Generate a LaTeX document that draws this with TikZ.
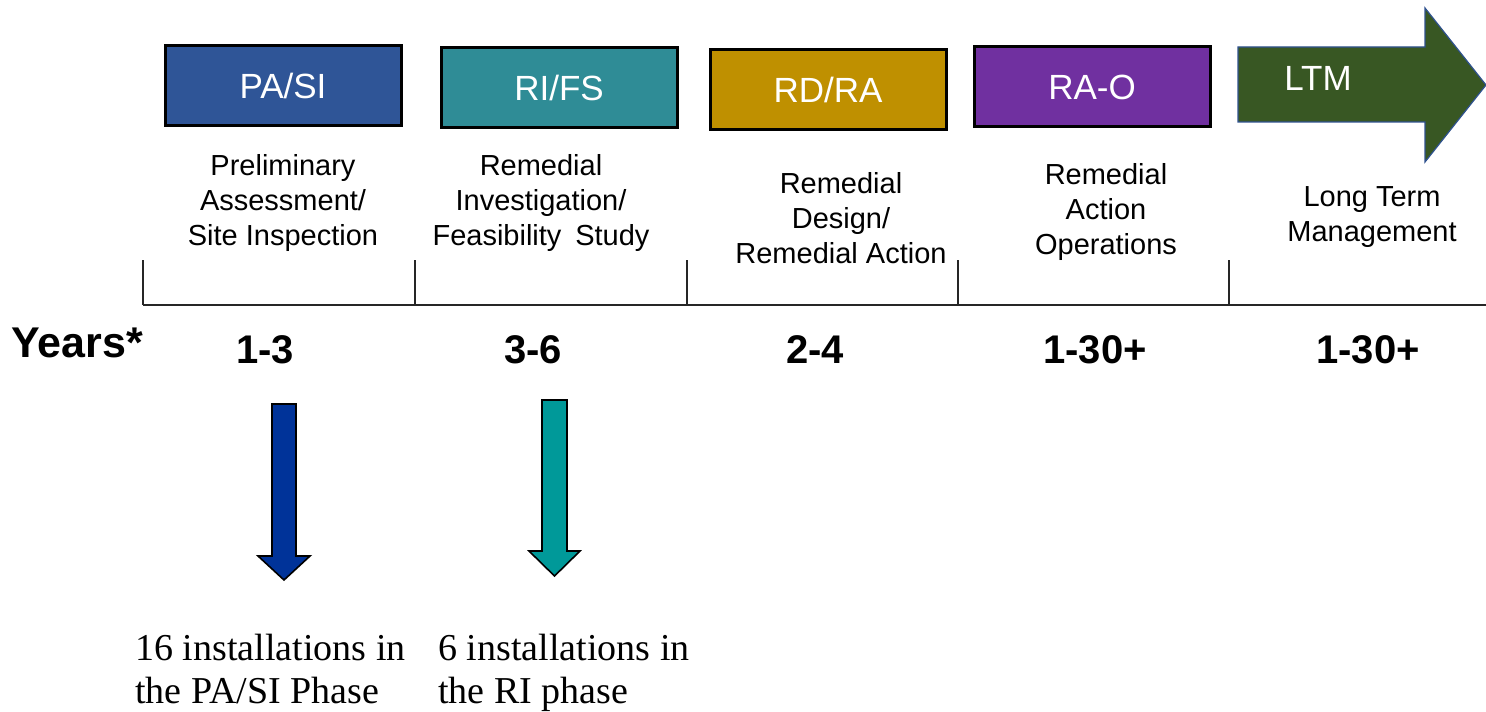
\documentclass[tikz,border=0pt]{standalone}
\usepackage{fontspec}
\setmainfont{Liberation Sans}
\newfontfamily\serifface{Liberation Serif}
\definecolor{pablue}{HTML}{2F5597}
\definecolor{riteal}{HTML}{2F8C96}
\definecolor{rdgold}{HTML}{BF9000}
\definecolor{raopurple}{HTML}{7030A0}
\definecolor{ltmgreen}{HTML}{385723}
\definecolor{ltmedge}{HTML}{2F528F}
\definecolor{arrowblue}{HTML}{003399}
\definecolor{arrowteal}{HTML}{009999}
\begin{document}
\begin{tikzpicture}[x=0.5pt,y=-0.5pt,
  phase/.style={draw=black, line width=1.5pt, minimum width=118pt, minimum height=40pt,
    inner sep=0pt, text=white, font=\fontsize{17.5pt}{19pt}\selectfont},
  desc/.style={align=center, font=\fontsize{14.5pt}{17.5pt}\selectfont, inner sep=0pt},
  yr/.style={font=\bfseries\fontsize{20pt}{22pt}\selectfont, inner sep=0pt},
  tickline/.style={line width=0.6pt, draw=black!85},
  note/.style={font=\serifface\fontsize{19pt}{21.5pt}\selectfont, align=left,
    anchor=north west, inner sep=0pt},
  blockarrow/.style={draw=black, line width=0.8pt, line join=miter}]

\useasboundingbox (0,0) rectangle (1486,711);

% phase boxes
\node[phase, fill=pablue]    (pasi) at (283,86)   {PA/SI};
\node[phase, fill=riteal]    (rifs) at (559,87.5) {RI/FS};
\node[phase, fill=rdgold]    (rdra) at (828,90)   {RD/RA};
\node[phase, fill=raopurple] (rao)  at (1092,87)  {RA-O};

% long term management block arrow
\filldraw[fill=ltmgreen, draw=ltmedge, line width=0.6pt]
  (1238,47) -- (1425,47) -- (1425,8) -- (1486,85) -- (1425,162)
  -- (1425,122) -- (1238,122) -- cycle;
\node[text=white, font=\fontsize{17.5pt}{19pt}\selectfont, inner sep=0pt] (ltm) at (1318,78) {LTM};

% phase descriptions
\node[desc] (dpasi) at (283,203) {Preliminary\\Assessment/\\Site Inspection};
\node[desc] (drifs) at (541,203) {Remedial\\Investigation/\\Feasibility\hspace{0.2em} Study};
\node[desc] (drdra) at (841,218) {Remedial\\Design/\\Remedial Action};
\node[desc] (drao)  at (1106,212) {Remedial\\Action\\Operations};
\node[desc] (dltm)  at (1372,217) {Long Term\\Management};

% timeline axis with ticks
\draw[tickline] (143,305) -- (1486,305);
\foreach \tx in {143,415,687,958,1229}
  \draw[tickline] (\tx,260) -- (\tx,305);

% durations
\node[yr, font=\bfseries\fontsize{21.5pt}{23pt}\selectfont] (years) at (77,343) {Years*};
\node[yr] (y1)    at (265,350) {1-3};
\node[yr] (y2)    at (533,350) {3-6};
\node[yr] (y3)    at (815,350) {2-4};
\node[yr] (y4)    at (1095,350) {1-30+};
\node[yr] (y5)    at (1368,350) {1-30+};

% pointers down to the installation counts
\filldraw[blockarrow, fill=arrowblue]
  (272,404) -- (296,404) -- (296,556) -- (310,556) -- (284,580)
  -- (258,556) -- (272,556) -- cycle;
\filldraw[blockarrow, fill=arrowteal]
  (542,400) -- (567,400) -- (567,551) -- (580,551) -- (554.5,576)
  -- (529,551) -- (542,551) -- cycle;

% installation counts
\node[note] (npasi) at (135,634) {16 installations in\\the PA/SI Phase};
\node[note] (nri)   at (438,634) {6 installations in\\the RI phase};
\end{tikzpicture}
\end{document}
